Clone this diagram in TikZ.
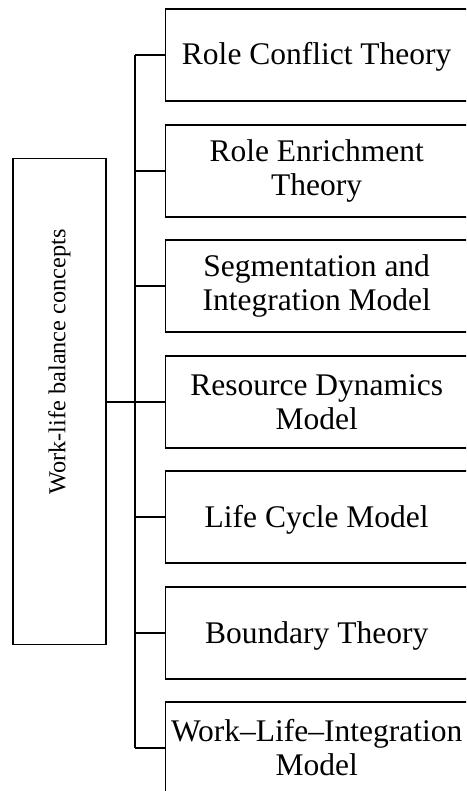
\documentclass[tikz,border=0pt]{standalone}
\usepackage{fontspec}
\setmainfont{Liberation Serif}
\begin{document}
\begin{tikzpicture}[x=1pt,y=-1pt,
  line/.style={line width=1.4pt},
  concept/.style={draw, line width=1.4pt, outer sep=0pt, inner sep=0pt,
    minimum width=302pt, minimum height=92pt, anchor=west, align=center,
    font=\fontsize{31.5}{34}\selectfont},
  oneline/.style={text height=20pt, text depth=0pt},
  rootbox/.style={draw, line width=1.4pt, outer sep=0pt, inner sep=0pt,
    minimum width=93.3pt, minimum height=486pt},
  roottext/.style={rotate=90, inner sep=0pt, font=\fontsize{24.3}{28}\selectfont}
]
\useasboundingbox (0,0) rectangle (466,791);
\clip (0,0) rectangle (466,791);

\node[rootbox] (root) at (59.5,401.3) {};
\node[roottext] (rootlabel) at (59.5,362) {Work-life balance concepts};

\node[concept, oneline] (b1) at (165.7,55) {Role Conflict Theory};
\node[concept] (b2) at (165.7,171) {Role Enrichment\\Theory};
\node[concept] (b3) at (165.7,286) {Segmentation and\\Integration Model};
\node[concept] (b4) at (165.7,402) {Resource Dynamics\\Model};
\node[concept, oneline] (b5) at (165.7,517) {Life Cycle Model};
\node[concept, oneline] (b6) at (165.7,633) {Boundary Theory};
\node[concept] (b7) at (165.7,748) {Work–Life–Integration\\Model};

\coordinate (trunk) at (135,402);
\draw[line] (b1.west -| trunk) -- (b7.west -| trunk);
\draw[line] (root.east |- b4.west) -- (b4.west -| trunk);
\foreach \i in {1,...,7}{
  \draw[line] (b\i.west -| trunk) -- (b\i.west);
}
\end{tikzpicture}
\end{document}
